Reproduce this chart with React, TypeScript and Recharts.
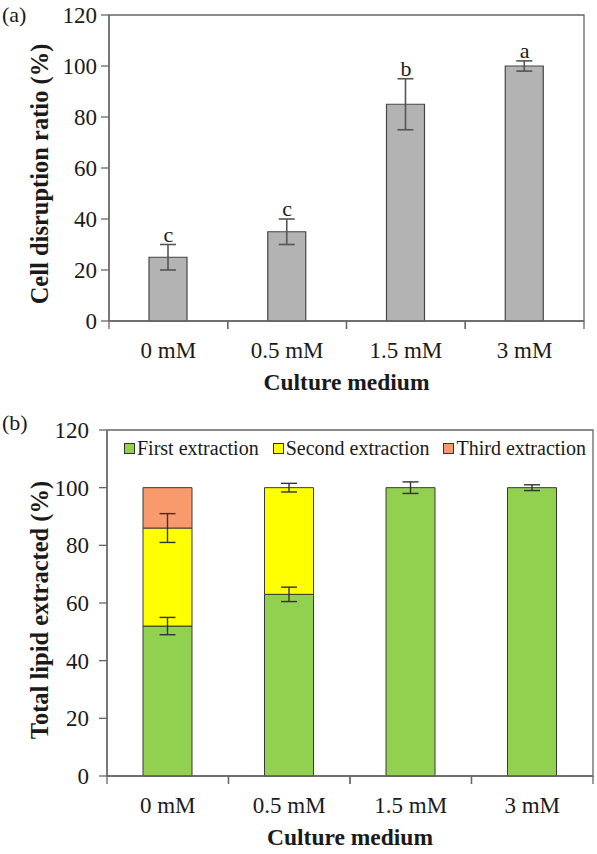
import React from 'react';
import {
  ComposedChart,
  Bar,
  Line,
  XAxis,
  YAxis,
  ErrorBar,
  LabelList,
  ReferenceArea,
  Legend,
} from 'recharts';

const categories = ['0 mM', '0.5 mM', '1.5 mM', '3 mM'];
const yTicks = [0, 20, 40, 60, 80, 100, 120];

// Panel (a)
const disruption = [25, 35, 85, 100];
const disruptionErr = [5, 5, 10, 2];
const disruptionLetters = ['c', 'c', 'b', 'a'];

// Panel (b)
const firstExtraction = [52, 63, 100, 100];
const firstErr = [3, 2.5, 2, 1];
const secondExtraction = [34, 37, 0, 0];
const secondErr = [5, 1.5, undefined, undefined];
const thirdExtraction = [14, 0, 0, 0];
const seriesNames = ['First extraction', 'Second extraction', 'Third extraction'];

const SERIF = '"Liberation Serif", "Times New Roman", Times, serif';
const AXIS = '#666666';
const TEXT = '#1a1a1a';
const seriesColors = ['#92d050', '#ffff00', '#f99a6c'];

const dataA = categories.map((c, i) => ({
  name: c,
  value: disruption[i],
  err: disruptionErr[i],
  letterY: disruption[i] + disruptionErr[i],
  letter: disruptionLetters[i],
}));

const dataB = categories.map((c, i) => ({
  name: c,
  first: firstExtraction[i],
  firstErr: firstErr[i],
  second: secondExtraction[i],
  secondErr: secondErr[i],
  third: thirdExtraction[i],
}));

const makeCatTick = (tickLen: number, labelGap: number) => (props: any) => {
  const { x, y, payload } = props;
  const half =
    (payload && payload.offset) ||
    (props.width && props.visibleTicksCount ? props.width / props.visibleTicksCount / 2 : 0);
  const axisY = y - tickLen;
  return (
    <g>
      <line x1={x - half} x2={x - half} y1={axisY} y2={axisY + tickLen} stroke={AXIS} strokeWidth={1.3} />
      <line x1={x + half} x2={x + half} y1={axisY} y2={axisY + tickLen} stroke={AXIS} strokeWidth={1.3} />
      <text
        x={x}
        y={axisY + labelGap}
        textAnchor="middle"
        fontFamily={SERIF}
        fontSize={23}
        fill={TEXT}
      >
        {payload.value}
      </text>
    </g>
  );
};

const makeYTitle = (text: string, dx: number, dy: number, size: number) => (props: any) => {
  const vb = props.viewBox || { x: 0, y: 0, width: 0, height: 0 };
  const cx = vb.x + dx;
  const cy = vb.y + vb.height / 2 + dy;
  return (
    <text
      x={cx}
      y={cy}
      transform={`rotate(-90, ${cx}, ${cy})`}
      textAnchor="middle"
      dominantBaseline="central"
      fontFamily={SERIF}
      fontWeight="bold"
      fontSize={size}
      fill={TEXT}
    >
      {text}
    </text>
  );
};

const renderLegend = () => (
  <div
    style={{
      display: 'flex',
      alignItems: 'center',
      fontFamily: SERIF,
      fontSize: 20,
      color: TEXT,
      whiteSpace: 'nowrap',
      lineHeight: '22px',
    }}
  >
    {seriesNames.map((n, i) => (
      <div key={n} style={{ display: 'flex', alignItems: 'center', marginRight: 14 }}>
        <span
          style={{
            display: 'inline-block',
            width: 9,
            height: 9,
            border: '1.4px solid #333',
            background: seriesColors[i],
            marginRight: 2,
          }}
        />
        <span>{n}</span>
      </div>
    ))}
  </div>
);

const panelLabel: React.CSSProperties = {
  position: 'absolute',
  left: 2,
  fontFamily: SERIF,
  fontSize: 22,
  color: TEXT,
  lineHeight: '25px',
};

export default function App() {
  return (
    <div style={{ position: 'absolute', left: 0, top: 0, width: 597, height: 854, background: '#fff' }}>
      <div style={{ ...panelLabel, top: 2 }}>(a)</div>
      <div style={{ ...panelLabel, top: 410 }}>(b)</div>

      <div style={{ position: 'absolute', left: 0, top: 0 }}>
        <ComposedChart
          width={597}
          height={400}
          data={dataA}
          margin={{ top: 15, right: 13, bottom: 0, left: 0 }}
          barSize={38}
        >
          <ReferenceArea
            x1="0 mM"
            x2="3 mM"
            y1={0}
            y2={120}
            fill="none"
            stroke={AXIS}
            strokeWidth={1.3}
            ifOverflow="visible"
          />
          <XAxis
            dataKey="name"
            height={79}
            tickLine={false}
            tickSize={8}
            tickMargin={0}
            axisLine={{ stroke: AXIS, strokeWidth: 1.3 }}
            interval={0}
            tick={makeCatTick(8, 37)}
            label={{ value: 'Culture medium', position: 'insideBottom', offset: 10, fontFamily: SERIF, fontWeight: 'bold', fontSize: 23.5, fill: TEXT }}
          />
          <YAxis
            width={109}
            domain={[0, 120]}
            ticks={yTicks}
            interval={0}
            tickSize={8}
            tickMargin={4}
            tickLine={{ stroke: AXIS, strokeWidth: 1.3 }}
            axisLine={{ stroke: AXIS, strokeWidth: 1.3 }}
            tick={{ fontFamily: SERIF, fontSize: 23, fill: TEXT }}
            label={{ content: makeYTitle('Cell disruption ratio (%)', 39, 6, 24.5) }}
          />
          <Bar dataKey="value" fill="#b3b3b3" stroke="#454545" strokeWidth={1.2} isAnimationActive={false}>
            <ErrorBar dataKey="err" width={8} stroke="#555" strokeWidth={1.6} direction="y" />
          </Bar>
          <Line
            dataKey="letterY"
            stroke="none"
            dot={false}
            activeDot={false}
            legendType="none"
            isAnimationActive={false}
          >
            <LabelList dataKey="letter" position="top" offset={3} fontFamily={SERIF} fontSize={22} fill={TEXT} />
          </Line>
        </ComposedChart>
      </div>

      <div style={{ position: 'absolute', left: 0, top: 400 }}>
        <ComposedChart
          width={597}
          height={454}
          data={dataB}
          margin={{ top: 30, right: 4, bottom: 0, left: 0 }}
          barSize={49}
        >
          <ReferenceArea
            x1="0 mM"
            x2="3 mM"
            y1={0}
            y2={120}
            fill="none"
            stroke={AXIS}
            strokeWidth={1.3}
            ifOverflow="visible"
          />
          <XAxis
            dataKey="name"
            height={78}
            tickLine={false}
            tickSize={8}
            tickMargin={0}
            axisLine={{ stroke: AXIS, strokeWidth: 1.3 }}
            interval={0}
            tick={makeCatTick(8, 37)}
            label={{ value: 'Culture medium', position: 'insideBottom', offset: 9, fontFamily: SERIF, fontWeight: 'bold', fontSize: 23.5, fill: TEXT }}
          />
          <YAxis
            width={107}
            domain={[0, 120]}
            ticks={yTicks}
            interval={0}
            tickSize={8}
            tickMargin={10}
            tickLine={{ stroke: AXIS, strokeWidth: 1.3 }}
            axisLine={{ stroke: AXIS, strokeWidth: 1.3 }}
            tick={{ fontFamily: SERIF, fontSize: 23, fill: TEXT }}
            label={{ content: makeYTitle('Total lipid extracted (%)', 39, 7, 24.5) }}
          />
          <Legend
            layout="vertical"
            align="center"
            verticalAlign="middle"
            content={renderLegend}
            wrapperStyle={{ top: 37, left: 124, width: 'auto', height: 'auto' }}
          />
          <Bar dataKey="first" stackId="s" fill={seriesColors[0]} stroke="#3a3a3a" strokeWidth={1} isAnimationActive={false}>
            <ErrorBar dataKey="firstErr" width={8} stroke="#333" strokeWidth={1.4} direction="y" />
          </Bar>
          <Bar dataKey="second" stackId="s" fill={seriesColors[1]} stroke="#3a3a3a" strokeWidth={1} isAnimationActive={false}>
            <ErrorBar dataKey="secondErr" width={8} stroke="#333" strokeWidth={1.4} direction="y" />
          </Bar>
          <Bar dataKey="third" stackId="s" fill={seriesColors[2]} stroke="#3a3a3a" strokeWidth={1} isAnimationActive={false} />
        </ComposedChart>
      </div>
    </div>
  );
}
